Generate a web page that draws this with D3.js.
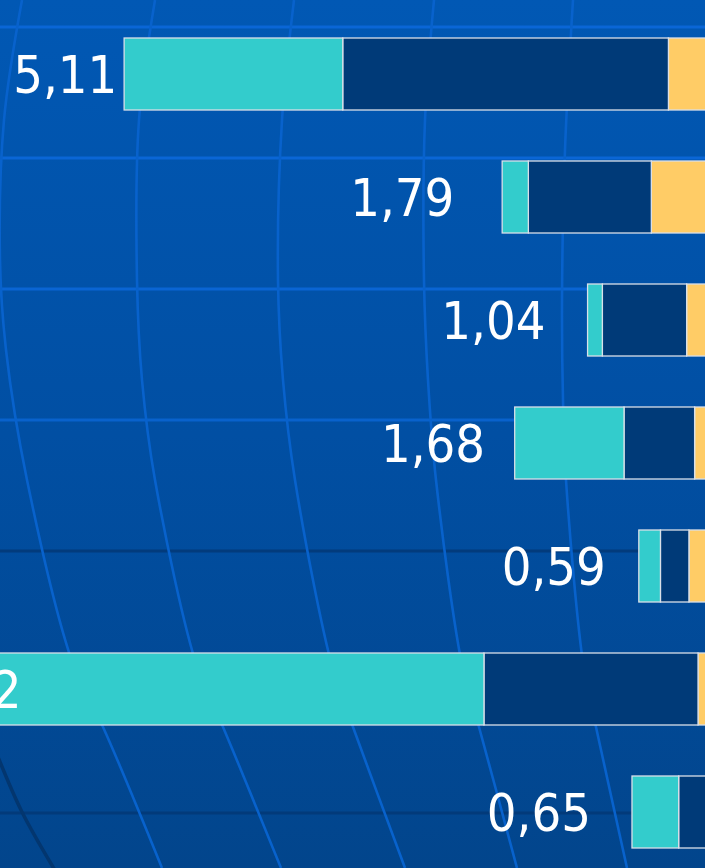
<!DOCTYPE html>
<html>
<head>
<meta charset="utf-8">
<script src="https://cdn.jsdelivr.net/npm/d3@7"></script>
<style>
  html, body { margin: 0; padding: 0; background: #0152ab; overflow: hidden; }
  svg { display: block; }
  .total {
    font-family: "DejaVu Sans Condensed", "DejaVu Sans", sans-serif;
    font-stretch: condensed;
    font-size: 52px;
    fill: #ffffff;
  }
</style>
</head>
<body>
<svg id="chart" width="705" height="868"></svg>
<script>
// Rows, top to bottom
const categories = ["r1", "r2", "r3", "r4", "r5", "r6", "r7"];

// Stacked segment values per row (stacked from the right edge leftwards)
const tealValues   = [1.92, 0.23, 0.13, 0.96, 0.19, 4.57, 0.41];
const navyValues   = [2.86, 1.08, 0.74, 0.62, 0.25, 1.88, 0.24];
const yellowValues = [0.33, 0.48, 0.17, 0.10, 0.15, 0.07, 0.00];

// Where each total label ends, as an offset (in value units) beyond its bar
const labelLead = [0.06, 0.42, 0.37, 0.26, 0.29, -0.51, 0.36];

const W = 705, H = 868;
const svg = d3.select("#chart");

// ---------- backdrop: blue globe with grid ----------
const defs = svg.append("defs");
const grad = defs.append("linearGradient")
  .attr("id", "bg").attr("x1", 0).attr("y1", 0).attr("x2", 0).attr("y2", 1);
grad.append("stop").attr("offset", "0%").attr("stop-color", "#0158b4");
grad.append("stop").attr("offset", "50%").attr("stop-color", "#014fa3");
grad.append("stop").attr("offset", "100%").attr("stop-color", "#02458c");

svg.append("rect").attr("width", W).attr("height", H).attr("fill", "url(#bg)");

const backdrop = svg.append("g");

// parallels
const parallels = [
  { y: 27,  c: "#0a66d6" }, { y: 158, c: "#0a66d6" },
  { y: 289, c: "#0a65d3" }, { y: 420, c: "#0962cc" },
  { y: 551, c: "#023b7c" }, { y: 682, c: "#023b7c" },
  { y: 813, c: "#023a7a" }
];
backdrop.selectAll("line.par").data(parallels).join("line")
  .attr("x1", 0).attr("x2", W)
  .attr("y1", d => d.y).attr("y2", d => d.y)
  .attr("stroke", d => d.c).attr("stroke-width", 3);

// meridians
const meridians = [
  [[22,0],[4,120],[0,260],[6,350],[27,480],[75,670],[103,727],[162,868]],
  [[155,0],[139,120],[137,280],[142,380],[155,480],[198,670],[223,727],[281,868]],
  [[294,0],[282,120],[278,280],[283,380],[295,480],[333,670],[353,727],[405,868]],
  [[434,0],[425,120],[424,280],[428,380],[436,480],[463,670],[479,727],[517,868]],
  [[573,0],[565,150],[562,300],[563,400],[566,480],[584,670],[596,727],[627,868]]
];
const meridianLine = d3.line().curve(d3.curveCatmullRom);
backdrop.selectAll("path.mer").data(meridians).join("path")
  .attr("d", meridianLine)
  .attr("fill", "none")
  .attr("stroke", "#0862cc")
  .attr("stroke-width", 2.6);

// dark rim line at lower left
backdrop.append("path")
  .attr("d", meridianLine([[-4, 752], [22, 812], [56, 872]]))
  .attr("fill", "none").attr("stroke", "#03366f").attr("stroke-width", 3.5);

// ---------- bars ----------
const rows = categories.map((c, i) => ({
  cat: c, teal: tealValues[i], navy: navyValues[i], yellow: yellowValues[i]
}));
const keys = ["yellow", "navy", "teal"];
const colors = { teal: "#33cccc", navy: "#003a78", yellow: "#ffcc66" };

const x = d3.scaleLinear().domain([0, 6.2]).range([706, 0]);
const y = d3.scaleBand().domain(categories)
  .range([12.5, 873.5]).paddingInner(51 / 123).paddingOuter(25.5 / 123);

const stacked = d3.stack().keys(keys)(rows);

const bars = svg.append("g");
bars.selectAll("g.series").data(stacked).join("g")
  .attr("fill", d => colors[d.key])
  .selectAll("rect").data(d => d.filter(p => p[1] - p[0] > 0)).join("rect")
    .attr("x", d => x(d[1]))
    .attr("width", d => x(d[0]) - x(d[1]))
    .attr("y", d => y(d.data.cat))
    .attr("height", y.bandwidth())
    .attr("stroke", "#d9dfe8")
    .attr("stroke-width", 1.3);

// ---------- total labels ----------
const fmt = v => d3.format(".2f")(v).replace(".", ",");
svg.append("g").selectAll("text").data(rows).join("text")
  .attr("class", "total")
  .attr("text-anchor", "end")
  .attr("x", (d, i) => x(d.teal + d.navy + d.yellow + labelLead[i]))
  .attr("y", d => y(d.cat) + y.bandwidth() / 2 + 19)
  .text(d => fmt(d.teal + d.navy + d.yellow));
</script>
</body>
</html>
